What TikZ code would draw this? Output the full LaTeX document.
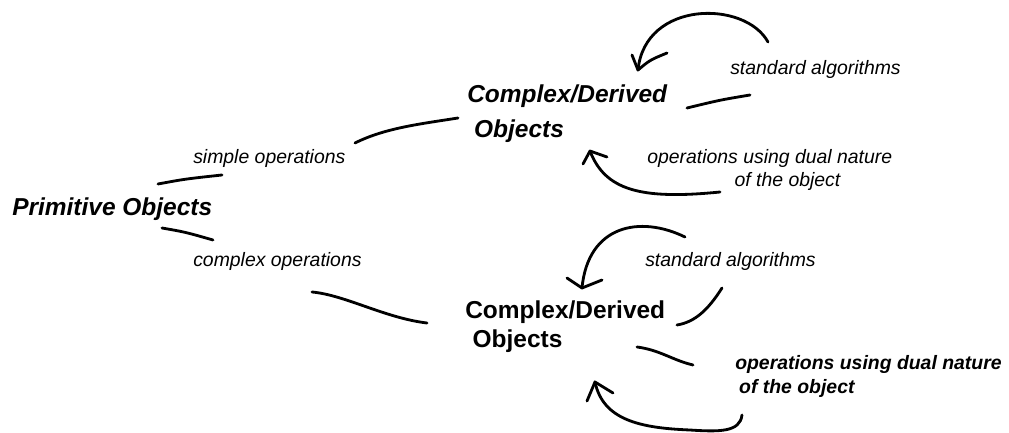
\documentclass[tikz,border=0pt]{standalone}
\usepackage{fontspec}
\setmainfont{Liberation Sans}

\newcommand{\bigfont}{\fontsize{17.4}{20.6}\selectfont\bfseries}
\newcommand{\opfont}{\fontsize{13.8}{16.4}\selectfont\itshape}

\begin{document}
\begin{tikzpicture}[x=0.025cm,y=-0.025cm]
\tikzstyle{every node}=[inner sep=0pt,anchor=base west];
\tikzstyle{obj}=[font=\bigfont,align=left];
\tikzstyle{op}=[font=\opfont,align=left];
\tikzstyle{pen}=[line width=2pt,line cap=round,line join=round];
\useasboundingbox (0,0) rectangle (1009,433);

% the objects and the operations on them (base = last line)
\node[obj,font=\bigfont\itshape] (prim) at (12,215) {Primitive Objects};
\node[op] (simple) at (193,163) {simple operations};
\node[op] (cplx) at (193,267) {complex operations};

\node[obj,font=\bigfont\itshape] (top) at (467,138) {Complex/Derived\\[4.3pt]\hspace*{.28em}Objects};
\node[op] (topstd) at (730,75) {standard algorithms};
\node[op] (topdual) at (647,187) {operations using dual nature\\\hspace*{4.5em}of the object};

\node[obj] (bot) at (465,347) {Complex/Derived\\\hspace*{.3em}Objects};
\node[op] (botstd) at (645,267) {standard algorithms};
\node[op,font=\opfont\bfseries] (botdual) at (735,393) {operations using dual nature\\\hspace*{.2em}of the object};

% hand drawn strokes
\coordinate (a1) at (158,184); \coordinate (a2) at (222,175);
\coordinate (b1) at (355,143); \coordinate (b2) at (458,118);
\coordinate (c1) at (768,42);  \coordinate (c2) at (638,70);
\coordinate (d1) at (750,95);  \coordinate (d2) at (687,108);
\coordinate (e1) at (720,192); \coordinate (e2) at (590,151);
\coordinate (f1) at (162,228); \coordinate (f2) at (213,240);
\coordinate (g1) at (312,292); \coordinate (g2) at (427,323);
\coordinate (h1) at (685,237); \coordinate (h2) at (582,288);
\coordinate (i1) at (722,288); \coordinate (i2) at (677,325);
\coordinate (j1) at (637,347); \coordinate (j2) at (693,365);
\coordinate (k1) at (742,415); \coordinate (k2) at (595,382);

\draw[pen] (a1) .. controls (185,179) .. (a2);
\draw[pen] (b1) .. controls (385,128) and (420,124) .. (b2);
\draw[pen] (c1) .. controls (745,0) and (645,0) .. (c2);
\draw[pen] (632,55) -- (c2) .. controls (650,60) .. (667,53);
\draw[pen] (d1) .. controls (720,100) .. (d2);
\draw[pen] (e1) .. controls (640,200) and (605,190) .. (e2);
\draw[pen] (583,164) -- (e2) -- (607,157);

\draw[pen] (f1) .. controls (185,232) .. (f2);
\draw[pen] (g1) .. controls (345,295) and (385,318) .. (g2);
\draw[pen] (h1) .. controls (640,215) and (588,225) .. (h2);
\draw[pen] (567,278) -- (h2) -- (602,280);
\draw[pen] (i1) .. controls (708,310) and (695,322) .. (i2);
\draw[pen] (j1) .. controls (660,350) and (672,360) .. (j2);
\draw[pen] (k1) .. controls (740,432) and (720,432) .. (690,430)
  .. controls (640,428) and (603,420) .. (k2);
\draw[pen] (587,401) -- (k2) -- (613,393);
\end{tikzpicture}
\end{document}
